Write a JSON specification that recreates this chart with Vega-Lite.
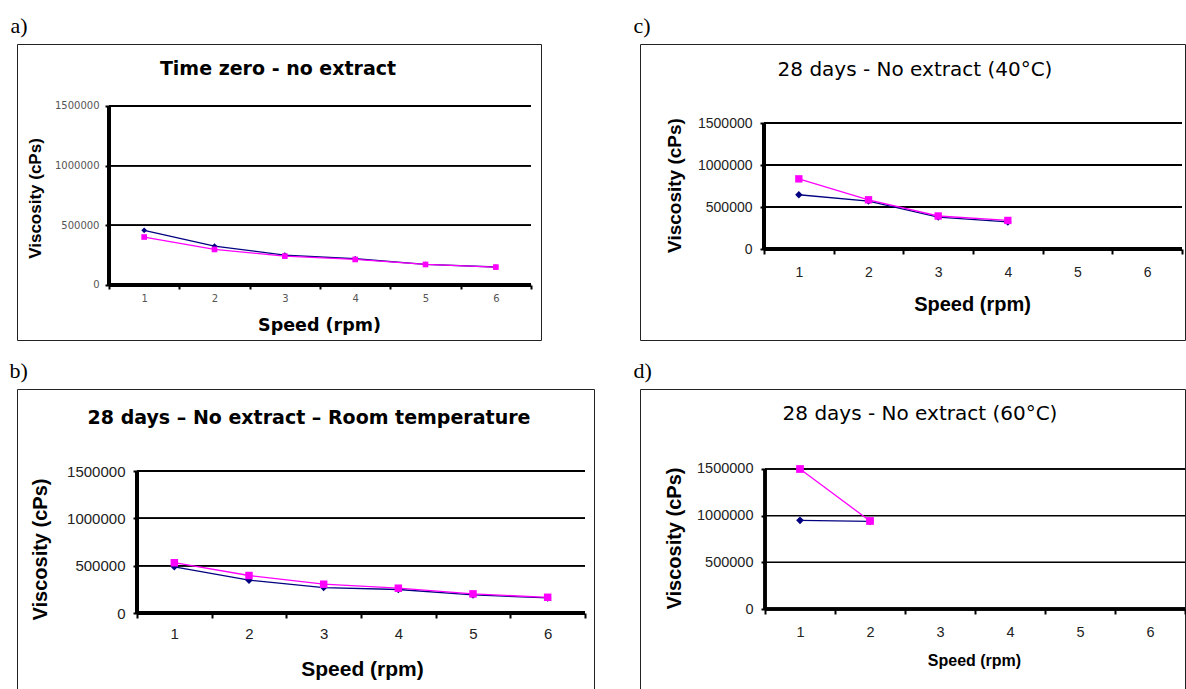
{
  "$schema": "https://vega.github.io/schema/vega-lite/v6.json",
  "background": "white",
  "padding": {"left": 9, "top": 14, "right": 0, "bottom": 0},
  "config": {
    "view": {"stroke": "#222", "strokeWidth": 1},
    "font": "Liberation Sans",
    "axis": {"domain": false, "grid": false, "tickColor": "black", "tickWidth": 2, "labelOverlap": false, "labelFlush": false, "titleColor": "black", "labelColor": "#222", "titleFontWeight": "bold"}
  },
  "datasets": {
    "a": [
      {"series": "Series 1", "speed": 1, "viscosity": 458000},
      {"series": "Series 1", "speed": 2, "viscosity": 326000},
      {"series": "Series 1", "speed": 3, "viscosity": 251000},
      {"series": "Series 1", "speed": 4, "viscosity": 220000},
      {"series": "Series 1", "speed": 5, "viscosity": 173000},
      {"series": "Series 1", "speed": 6, "viscosity": 151000},
      {"series": "Series 2", "speed": 1, "viscosity": 402000},
      {"series": "Series 2", "speed": 2, "viscosity": 298000},
      {"series": "Series 2", "speed": 3, "viscosity": 242000},
      {"series": "Series 2", "speed": 4, "viscosity": 214000},
      {"series": "Series 2", "speed": 5, "viscosity": 172000},
      {"series": "Series 2", "speed": 6, "viscosity": 150000}
    ],
    "b": [
      {"series": "Series 1", "speed": 1, "viscosity": 488000},
      {"series": "Series 1", "speed": 2, "viscosity": 347000},
      {"series": "Series 1", "speed": 3, "viscosity": 269000},
      {"series": "Series 1", "speed": 4, "viscosity": 248000},
      {"series": "Series 1", "speed": 5, "viscosity": 191000},
      {"series": "Series 1", "speed": 6, "viscosity": 159000},
      {"series": "Series 2", "speed": 1, "viscosity": 531000},
      {"series": "Series 2", "speed": 2, "viscosity": 396000},
      {"series": "Series 2", "speed": 3, "viscosity": 304000},
      {"series": "Series 2", "speed": 4, "viscosity": 262000},
      {"series": "Series 2", "speed": 5, "viscosity": 202000},
      {"series": "Series 2", "speed": 6, "viscosity": 166000}
    ],
    "c": [
      {"series": "Series 1", "speed": 1, "viscosity": 646000},
      {"series": "Series 1", "speed": 2, "viscosity": 570000},
      {"series": "Series 1", "speed": 3, "viscosity": 380000},
      {"series": "Series 1", "speed": 4, "viscosity": 322000},
      {"series": "Series 2", "speed": 1, "viscosity": 835000},
      {"series": "Series 2", "speed": 2, "viscosity": 586000},
      {"series": "Series 2", "speed": 3, "viscosity": 393000},
      {"series": "Series 2", "speed": 4, "viscosity": 340000}
    ],
    "d": [
      {"series": "Series 1", "speed": 1, "viscosity": 950000},
      {"series": "Series 1", "speed": 2, "viscosity": 939000},
      {"series": "Series 2", "speed": 1, "viscosity": 1500000},
      {"series": "Series 2", "speed": 2, "viscosity": 943000}
    ]
  },
  "hconcat": [
    {
      "spacing": 18,
      "vconcat": [
        {
          "title": {"text": "a)", "anchor": "start", "font": "Liberation Serif", "fontSize": 22, "fontWeight": "normal", "color": "black", "offset": -11, "baseline": "alphabetic", "dx": -6},
          "vconcat": [
            {
              "width": 524, "height": 296,
              "data": {"name": "a"},
              "title": {"text": "Time zero - no extract", "anchor": "middle", "frame": "group", "font": "DejaVu Sans", "fontSize": 19, "fontWeight": "bold", "color": "black", "offset": -50, "baseline": "alphabetic", "dx": -1},
              "encoding": {
                "x": {"field": "speed", "type": "quantitative", "scale": {"domain": [-0.808, 6.642], "nice": false, "zero": false},
                  "axis": {"title": "Speed (rpm)", "orient": "bottom", "offset": -55, "values": [0.5, 1.5, 2.5, 3.5, 4.5, 5.5, 6.5], "labelExpr": "datum.value < 6 ? format(datum.value + 0.5, 'd') : ''", "labelOffset": {"condition": {"test": "datum.value > 6", "value": 0}, "value": 35.2}, "tickSize": 4, "labelPadding": 4, "labelFont": "DejaVu Sans", "labelFontSize": 10, "labelColor": "#555", "titleFont": "DejaVu Sans", "titleFontSize": 17.5, "titleX": 302, "titleY": 40, "titleBaseline": "middle", "titleAlign": "center"}},
                "y": {"field": "viscosity", "type": "quantitative", "scale": {"domain": [-460900, 2019550], "nice": false, "zero": false},
                  "axis": {"title": "Viscosity (cPs)", "orient": "left", "offset": -92, "values": [0, 500000, 1000000, 1500000], "format": "d", "tickSize": 4, "labelPadding": 6, "labelFont": "DejaVu Sans", "labelFontSize": 10, "labelColor": "#555", "titleFont": "Liberation Sans", "titleFontSize": 17, "titleX": -74, "titleY": 154, "titleBaseline": "middle", "titleAngle": -90, "titleAlign": "center"}}
              },
              "layer": [
                {"mark": {"type": "rule", "color": "black", "strokeWidth": 1}, "encoding": {"x": {"datum": 0.5, "type": "quantitative"}, "x2": {"datum": 6.5}, "y": {"datum": 500000, "type": "quantitative"}}},
                {"mark": {"type": "rule", "color": "black", "strokeWidth": 1}, "encoding": {"x": {"datum": 0.5, "type": "quantitative"}, "x2": {"datum": 6.5}, "y": {"datum": 1000000, "type": "quantitative"}}},
                {"mark": {"type": "rule", "color": "black", "strokeWidth": 1}, "encoding": {"x": {"datum": 0.5, "type": "quantitative"}, "x2": {"datum": 6.5}, "y": {"datum": 1500000, "type": "quantitative"}}},
                {"mark": {"type": "rule", "color": "black", "strokeWidth": 3}, "encoding": {"x": {"datum": 0.5, "type": "quantitative"}, "x2": {"datum": 6.5}, "y": {"datum": 0, "type": "quantitative"}}},
                {"mark": {"type": "rule", "color": "black", "strokeWidth": 3}, "encoding": {"x": {"datum": 0.5, "type": "quantitative"}, "y": {"datum": 0, "type": "quantitative"}, "y2": {"datum": 1500000}}},
                {"mark": {"type": "line", "strokeWidth": 1.3}, "encoding": {"color": {"field": "series", "type": "nominal", "scale": {"domain": ["Series 1", "Series 2"], "range": ["#000080", "#FF00FF"]}, "legend": null}}},
                {"mark": {"type": "point", "filled": true, "opacity": 1, "size": 32}, "encoding": {"color": {"field": "series", "type": "nominal", "scale": {"domain": ["Series 1", "Series 2"], "range": ["#000080", "#FF00FF"]}, "legend": null}, "shape": {"field": "series", "type": "nominal", "scale": {"domain": ["Series 1", "Series 2"], "range": ["diamond", "square"]}, "legend": null}}}
              ]
            }
          ]
        },
        {
          "title": {"text": "b)", "anchor": "start", "font": "Liberation Serif", "fontSize": 22, "fontWeight": "normal", "color": "black", "offset": -11, "baseline": "alphabetic", "dx": -7},
          "vconcat": [
            {
              "width": 577, "height": 300,
              "data": {"name": "b"},
              "title": {"text": "28 days – No extract – Room temperature", "anchor": "middle", "frame": "group", "font": "DejaVu Sans", "fontSize": 19, "fontWeight": "bold", "color": "black", "offset": -54, "baseline": "alphabetic", "dx": 3.5},
              "encoding": {
                "x": {"field": "speed", "type": "quantitative", "scale": {"domain": [-1.107, 6.6205], "nice": false, "zero": false},
                  "axis": {"title": "Speed (rpm)", "orient": "bottom", "offset": -76, "values": [0.5, 1.5, 2.5, 3.5, 4.5, 5.5, 6.5], "labelExpr": "datum.value < 6 ? format(datum.value + 0.5, 'd') : ''", "labelOffset": {"condition": {"test": "datum.value > 6", "value": 0}, "value": 37.3}, "tickSize": 5, "labelPadding": 8, "labelFont": "Liberation Sans", "labelFontSize": 15, "titleFont": "Liberation Sans", "titleFontSize": 21, "titleX": 345, "titleY": 56, "titleBaseline": "middle", "titleAlign": "center"}},
                "y": {"field": "viscosity", "type": "quantitative", "scale": {"domain": [-802800, 2366200], "nice": false, "zero": false},
                  "axis": {"title": "Viscosity (cPs)", "orient": "left", "offset": -120, "values": [0, 500000, 1000000, 1500000], "format": "d", "tickSize": 4, "labelPadding": 8, "labelFont": "Liberation Sans", "labelFontSize": 15, "titleFont": "Liberation Sans", "titleFontSize": 20, "titleX": -97, "titleY": 160, "titleBaseline": "middle", "titleAngle": -90, "titleAlign": "center"}}
              },
              "layer": [
                {"mark": {"type": "rule", "color": "black", "strokeWidth": 1}, "encoding": {"x": {"datum": 0.5, "type": "quantitative"}, "x2": {"datum": 6.5}, "y": {"datum": 500000, "type": "quantitative"}}},
                {"mark": {"type": "rule", "color": "black", "strokeWidth": 1}, "encoding": {"x": {"datum": 0.5, "type": "quantitative"}, "x2": {"datum": 6.5}, "y": {"datum": 1000000, "type": "quantitative"}}},
                {"mark": {"type": "rule", "color": "black", "strokeWidth": 1}, "encoding": {"x": {"datum": 0.5, "type": "quantitative"}, "x2": {"datum": 6.5}, "y": {"datum": 1500000, "type": "quantitative"}}},
                {"mark": {"type": "rule", "color": "black", "strokeWidth": 3}, "encoding": {"x": {"datum": 0.5, "type": "quantitative"}, "x2": {"datum": 6.5}, "y": {"datum": 0, "type": "quantitative"}}},
                {"mark": {"type": "rule", "color": "black", "strokeWidth": 3}, "encoding": {"x": {"datum": 0.5, "type": "quantitative"}, "y": {"datum": 0, "type": "quantitative"}, "y2": {"datum": 1500000}}},
                {"mark": {"type": "line", "strokeWidth": 1.3}, "encoding": {"color": {"field": "series", "type": "nominal", "scale": {"domain": ["Series 1", "Series 2"], "range": ["#000080", "#FF00FF"]}, "legend": null}}},
                {"mark": {"type": "point", "filled": true, "opacity": 1, "size": 56}, "encoding": {"color": {"field": "series", "type": "nominal", "scale": {"domain": ["Series 1", "Series 2"], "range": ["#000080", "#FF00FF"]}, "legend": null}, "shape": {"field": "series", "type": "nominal", "scale": {"domain": ["Series 1", "Series 2"], "range": ["diamond", "square"]}, "legend": null}}}
              ]
            }
          ]
        }
      ]
    },
    {
      "spacing": 18,
      "vconcat": [
        {
          "title": {"text": "c)", "anchor": "start", "font": "Liberation Serif", "fontSize": 22, "fontWeight": "normal", "color": "black", "offset": -11, "baseline": "alphabetic", "dx": -6},
          "vconcat": [
            {
              "width": 545, "height": 296,
              "data": {"name": "c"},
              "title": {"text": "28 days - No extract (40°C)", "anchor": "middle", "frame": "group", "font": "DejaVu Sans", "fontSize": 20, "fontWeight": "normal", "color": "black", "offset": -52, "baseline": "alphabetic", "dx": 2.5},
              "encoding": {
                "x": {"field": "speed", "type": "quantitative", "scale": {"domain": [-1.28, 6.543], "nice": false, "zero": false},
                  "axis": {"title": "Speed (rpm)", "orient": "bottom", "offset": -91, "values": [0.5, 1.5, 2.5, 3.5, 4.5, 5.5, 6.5], "labelExpr": "datum.value < 6 ? format(datum.value + 0.5, 'd') : ''", "labelOffset": {"condition": {"test": "datum.value > 6", "value": 0}, "value": 34.8}, "tickSize": 5, "labelPadding": 11, "labelFont": "Liberation Sans", "labelFontSize": 14, "titleFont": "Liberation Sans", "titleFontSize": 20, "titleX": 332, "titleY": 55, "titleBaseline": "middle", "titleAlign": "center"}},
                "y": {"field": "viscosity", "type": "quantitative", "scale": {"domain": [-1083300, 2440500], "nice": false, "zero": false},
                  "axis": {"title": "Viscosity (cPs)", "orient": "left", "offset": -124, "values": [0, 500000, 1000000, 1500000], "format": "d", "tickSize": 4, "labelPadding": 8, "labelFont": "Liberation Sans", "labelFontSize": 14, "titleFont": "Liberation Sans", "titleFontSize": 19, "titleX": -90, "titleY": 141, "titleBaseline": "middle", "titleAngle": -90, "titleAlign": "center"}}
              },
              "layer": [
                {"mark": {"type": "rule", "color": "black", "strokeWidth": 1}, "encoding": {"x": {"datum": 0.5, "type": "quantitative"}, "x2": {"datum": 6.5}, "y": {"datum": 500000, "type": "quantitative"}}},
                {"mark": {"type": "rule", "color": "black", "strokeWidth": 1}, "encoding": {"x": {"datum": 0.5, "type": "quantitative"}, "x2": {"datum": 6.5}, "y": {"datum": 1000000, "type": "quantitative"}}},
                {"mark": {"type": "rule", "color": "black", "strokeWidth": 1}, "encoding": {"x": {"datum": 0.5, "type": "quantitative"}, "x2": {"datum": 6.5}, "y": {"datum": 1500000, "type": "quantitative"}}},
                {"mark": {"type": "rule", "color": "black", "strokeWidth": 3}, "encoding": {"x": {"datum": 0.5, "type": "quantitative"}, "x2": {"datum": 6.5}, "y": {"datum": 0, "type": "quantitative"}}},
                {"mark": {"type": "rule", "color": "black", "strokeWidth": 3}, "encoding": {"x": {"datum": 0.5, "type": "quantitative"}, "y": {"datum": 0, "type": "quantitative"}, "y2": {"datum": 1500000}}},
                {"mark": {"type": "line", "strokeWidth": 1.3}, "encoding": {"color": {"field": "series", "type": "nominal", "scale": {"domain": ["Series 1", "Series 2"], "range": ["#000080", "#FF00FF"]}, "legend": null}}},
                {"mark": {"type": "point", "filled": true, "opacity": 1, "size": 54}, "encoding": {"color": {"field": "series", "type": "nominal", "scale": {"domain": ["Series 1", "Series 2"], "range": ["#000080", "#FF00FF"]}, "legend": null}, "shape": {"field": "series", "type": "nominal", "scale": {"domain": ["Series 1", "Series 2"], "range": ["diamond", "square"]}, "legend": null}}}
              ]
            }
          ]
        },
        {
          "title": {"text": "d)", "anchor": "start", "font": "Liberation Serif", "fontSize": 22, "fontWeight": "normal", "color": "black", "offset": -11, "baseline": "alphabetic", "dx": -6},
          "vconcat": [
            {
              "width": 545, "height": 300,
              "data": {"name": "d"},
              "title": {"text": "28 days - No extract (60°C)", "anchor": "middle", "frame": "group", "font": "DejaVu Sans", "fontSize": 20, "fontWeight": "normal", "color": "black", "offset": -51, "baseline": "alphabetic", "dx": 7.5},
              "encoding": {
                "x": {"field": "speed", "type": "quantitative", "scale": {"domain": [-1.286, 6.5], "nice": false, "zero": false},
                  "axis": {"title": "Speed (rpm)", "orient": "bottom", "offset": -80, "values": [0.5, 1.5, 2.5, 3.5, 4.5, 5.5, 6.5], "labelExpr": "datum.value < 6 ? format(datum.value + 0.5, 'd') : ''", "labelOffset": {"condition": {"test": "datum.value > 6", "value": 0}, "value": 35}, "tickSize": 5, "labelPadding": 11, "labelFont": "Liberation Sans", "labelFontSize": 14.5, "titleFont": "Liberation Sans", "titleFontSize": 16, "titleX": 334, "titleY": 51, "titleBaseline": "middle", "titleAlign": "center"}},
                "y": {"field": "viscosity", "type": "quantitative", "scale": {"domain": [-857100, 2357100], "nice": false, "zero": false},
                  "axis": {"title": "Viscosity (cPs)", "orient": "left", "offset": -125, "values": [0, 500000, 1000000, 1500000], "format": "d", "tickSize": 4, "labelPadding": 8, "labelFont": "Liberation Sans", "labelFontSize": 14.5, "titleFont": "Liberation Sans", "titleFontSize": 20, "titleX": -91, "titleY": 149, "titleBaseline": "middle", "titleAngle": -90, "titleAlign": "center"}}
              },
              "layer": [
                {"mark": {"type": "rule", "color": "black", "strokeWidth": 1}, "encoding": {"x": {"datum": 0.5, "type": "quantitative"}, "x2": {"datum": 6.5}, "y": {"datum": 500000, "type": "quantitative"}}},
                {"mark": {"type": "rule", "color": "black", "strokeWidth": 1}, "encoding": {"x": {"datum": 0.5, "type": "quantitative"}, "x2": {"datum": 6.5}, "y": {"datum": 1000000, "type": "quantitative"}}},
                {"mark": {"type": "rule", "color": "black", "strokeWidth": 1}, "encoding": {"x": {"datum": 0.5, "type": "quantitative"}, "x2": {"datum": 6.5}, "y": {"datum": 1500000, "type": "quantitative"}}},
                {"mark": {"type": "rule", "color": "black", "strokeWidth": 3}, "encoding": {"x": {"datum": 0.5, "type": "quantitative"}, "x2": {"datum": 6.5}, "y": {"datum": 0, "type": "quantitative"}}},
                {"mark": {"type": "rule", "color": "black", "strokeWidth": 3}, "encoding": {"x": {"datum": 0.5, "type": "quantitative"}, "y": {"datum": 0, "type": "quantitative"}, "y2": {"datum": 1500000}}},
                {"mark": {"type": "line", "strokeWidth": 1.3}, "encoding": {"color": {"field": "series", "type": "nominal", "scale": {"domain": ["Series 1", "Series 2"], "range": ["#000080", "#FF00FF"]}, "legend": null}}},
                {"mark": {"type": "point", "filled": true, "opacity": 1, "size": 60}, "encoding": {"color": {"field": "series", "type": "nominal", "scale": {"domain": ["Series 1", "Series 2"], "range": ["#000080", "#FF00FF"]}, "legend": null}, "shape": {"field": "series", "type": "nominal", "scale": {"domain": ["Series 1", "Series 2"], "range": ["diamond", "square"]}, "legend": null}}}
              ]
            }
          ]
        }
      ]
    }
  ],
  "spacing": 38
}
